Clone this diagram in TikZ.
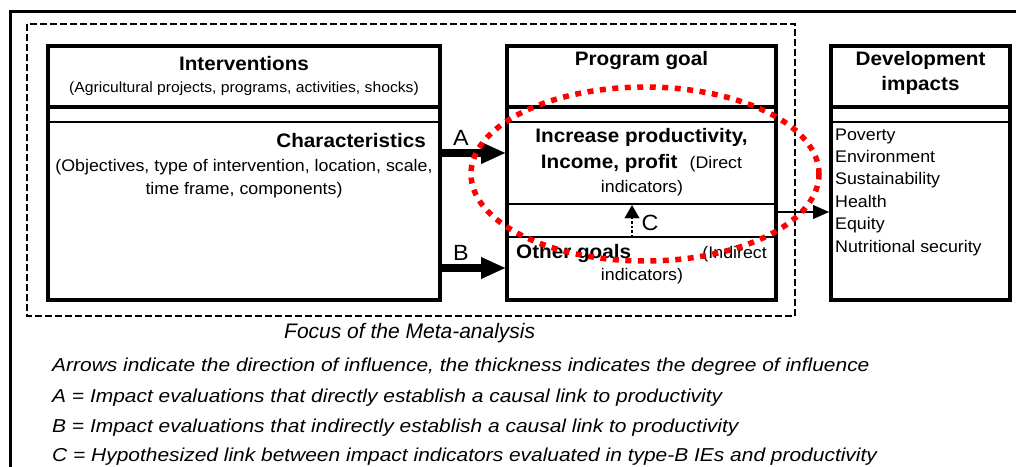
\documentclass[tikz,border=0pt]{standalone}
\usepackage{fontspec}
\setmainfont{Liberation Sans}[FakeStretch=1.06]
\newfontfamily\botfont{Liberation Sans}[FakeStretch=1.12]
\newfontfamily\focfont{Liberation Sans}
\usetikzlibrary{arrows.meta}
\definecolor{dotred}{RGB}{255,0,0}
\begin{document}
\begin{tikzpicture}[x=1pt,y=-1pt,
  box/.style={draw, line width=4pt, rectangle, inner sep=0pt},
  septhick/.style={line width=4pt},
  septhin/.style={line width=2.5pt},
  ttl/.style={font=\fontsize{19.5}{23}\selectfont\bfseries, inner sep=0pt, anchor=base},
  txt/.style={font=\fontsize{16.8}{20}\selectfont, inner sep=0pt, anchor=base},
  smalltxt/.style={font=\fontsize{14.8}{18}\selectfont, inner sep=0pt, anchor=base},
  lbl/.style={font=\fontsize{22}{26}\selectfont, inner sep=0pt, anchor=base},
  note/.style={font=\botfont\itshape\fontsize{18.7}{22}\selectfont, inner sep=0pt, anchor=base west},
  focus/.style={font=\focfont\itshape\fontsize{21}{25}\selectfont, inner sep=0pt, anchor=base west},
  bigarrow/.style={line width=7.5pt, -{Triangle[length=24pt,width=22pt,line width=0.1pt]}},
  thinarrow/.style={line width=2.5pt, -{Triangle[length=16pt,width=14pt,line width=0.1pt]}},
  dotarrow/.style={line width=2.5pt, dotted, -{Triangle[length=13pt,width=15pt,line width=0.1pt]}},
  reddots/.style={draw=dotred, line width=5.5pt, dash pattern=on 6pt off 6.5pt},
  frame/.style={line width=3pt},
  dashframe/.style={line width=2pt, dash pattern=on 7pt off 3pt}
]
\useasboundingbox (0,0) rectangle (1016,466);
\clip (0,0) rectangle (1016,466);

% outer frame
\draw[frame] (10,480) -- (10,11) -- (1030,11);
% dashed focus frame
\draw[dashframe] (27,24) rectangle (795,316);

% boxes
\node[box, minimum width=392pt, minimum height=254pt] (intv) at (244,173) {};
\node[box, minimum width=269pt, minimum height=254pt] (goal) at (641.5,173) {};
\node[box, minimum width=179pt, minimum height=254pt] (dev) at (920.5,173) {};

% separator heights
\coordinate (s1) at (0,107);
\coordinate (s2) at (0,122);
\coordinate (s3) at (0,204);
\coordinate (s4) at (0,237);
\foreach \b in {intv,goal,dev}{
  \draw[septhick] (\b.west |- s1) -- (\b.east |- s1);
  \draw[septhin] (\b.west |- s2) -- (\b.east |- s2);
}
\draw[line width=2.3pt] (goal.west |- s3) -- (goal.east |- s3);
\draw[septhin] (goal.west |- s4) -- (goal.east |- s4);

% Interventions texts
\node[ttl] (t1) at (244,70) {Interventions};
\node[smalltxt] (t2) at (244,92) {(Agricultural projects, programs, activities, shocks)};
\node[ttl, anchor=base east] (t3) at (426,147) {Characteristics};
\node[txt] (t4) at (244,171) {(Objectives, type of intervention, location, scale,};
\node[txt] (t5) at (244,194) {time frame, components)};

% Program goal texts
\node[ttl] (g1) at (641.5,65) {Program goal};
\node[ttl] (g2) at (641.5,142) {Increase productivity,};
\node[ttl] (g3) at (641.5,168) {Income, profit\hspace{12pt}{\mdseries\fontsize{16.8}{20}\selectfont(Direct}};
\node[txt] (g4) at (642,192) {indicators)};
\node[ttl, anchor=base west] (g5) at (516,258) {Other goals};
\node[txt, anchor=base east] (g6) at (767,258) {(Indirect};
\node[txt] (g7) at (642,280) {indicators)};

% Development impacts texts
\node[ttl] (d1) at (920.5,65) {Development};
\node[ttl] (d2) at (920.5,90) {impacts};
\foreach \t [count=\i from 0] in {Poverty,Environment,Sustainability,Health,Equity,Nutritional security}{
  \node[txt, anchor=base west] (l\i) at (835,140+22.4*\i) {\t};
}

% arrows
\coordinate (ya) at (0,153);
\coordinate (yb) at (0,268);
\coordinate (yd) at (0,212);
\draw[bigarrow] (intv.east |- ya) -- (goal.west |- ya);
\draw[bigarrow] (intv.east |- yb) -- (goal.west |- yb);
\draw[thinarrow] (goal.east |- yd) -- (dev.west |- yd);
\coordinate (c1) at (632,237);
\coordinate (c2) at (632,205.2);
\draw[dotarrow] (c1) -- (c2);
\node[lbl] (la) at (461,145) {A};
\node[lbl] (lb) at (461,260) {B};
\node[lbl] (lc) at (650,230) {C};

% red dotted ellipse
\draw[reddots] (645,174) ellipse [x radius=174pt, y radius=87pt];

% captions
\node[focus] (f) at (284,338) {Focus of the Meta-analysis};
\node[note] (n1) at (52,371) {Arrows indicate the direction of influence, the thickness indicates the degree of influence};
\node[note] (n2) at (52,402) {A = Impact evaluations that directly establish a causal link to productivity};
\node[note] (n3) at (52,432) {B = Impact evaluations that indirectly establish a causal link to productivity};
\node[note] (n4) at (52,461) {C = Hypothesized link between impact indicators evaluated in type-B IEs and productivity};
\end{tikzpicture}
\end{document}
